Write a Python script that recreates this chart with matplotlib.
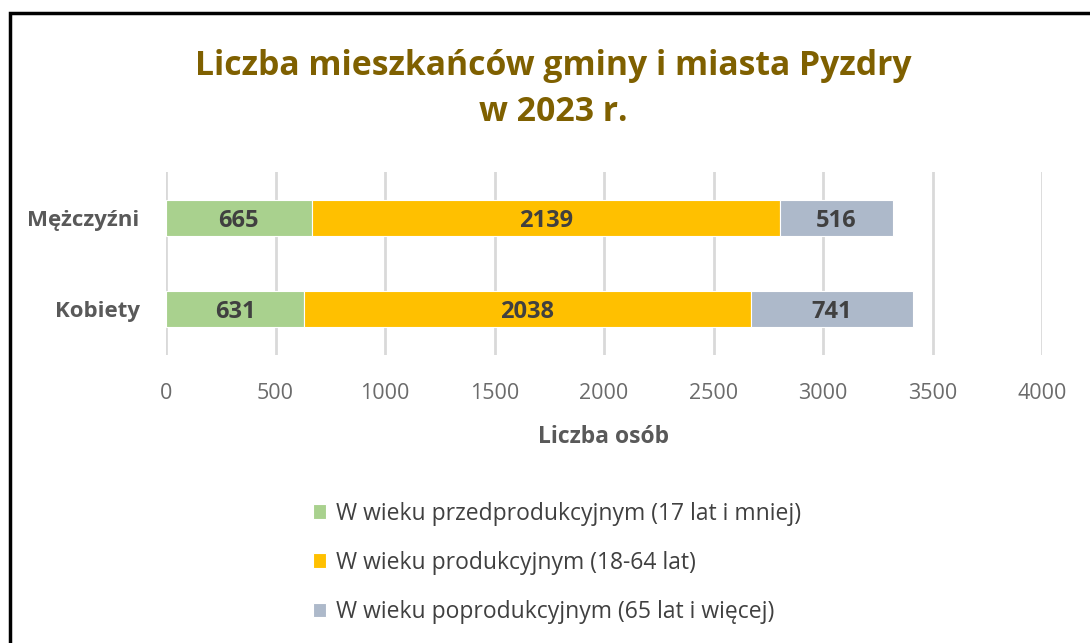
import matplotlib.pyplot as plt
from matplotlib.patches import Rectangle

plt.rcParams['font.family'] = ['Open Sans', 'DejaVu Sans']

# data
categories = ['Kobiety', 'Mężczyźni']
przed = [631, 665]
prod = [2038, 2139]
popr = [741, 516]
series_names = ['W wieku przedprodukcyjnym (17 lat i mniej)',
                'W wieku produkcyjnym (18-64 lat)',
                'W wieku poprodukcyjnym (65 lat i więcej)']
colors = ['#A9D18E', '#FFC000', '#ADB9CA']

fig = plt.figure(figsize=(10.9, 6.43), dpi=100)
ax = fig.add_axes([166 / 1090, 1 - 355 / 643, 876 / 1090, 183 / 643])

grey = '#595959'
y = list(range(len(categories)))
left = [0] * len(categories)
handles = []
for vals, col, name in zip([przed, prod, popr], colors, series_names):
    bars = ax.barh(y, vals, left=left, height=0.39, color=col,
                   edgecolor='white', linewidth=0.8, label=name, zorder=3)
    handles.append(bars)
    for yi, v, l in zip(y, vals, left):
        ax.text(l + v / 2, yi, str(v), ha='center', va='center_baseline',
                fontsize=17, fontweight='bold', color='#404040', zorder=4)
    left = [a + b for a, b in zip(left, vals)]

ax.set_xlim(0, 4000)
ax.set_ylim(-0.5, 1.5)
ax.set_xticks(range(0, 4001, 500))
ax.set_yticks(y)
ax.set_yticklabels(categories, fontsize=16, fontweight='bold', color=grey)
ax.tick_params(axis='x', labelsize=15.5, labelcolor='#6b6b6b', length=0, pad=20)
ax.tick_params(axis='y', length=0, pad=19)
ax.grid(axis='x', color='#D9D9D9', linewidth=2, zorder=0)
for s in ax.spines.values():
    s.set_visible(False)
ax.set_xlabel('Liczba osób', fontsize=16.5, fontweight='bold', color=grey, labelpad=15)

fig.text(0.508, 1 - 66 / 643, 'Liczba mieszkańców gminy i miasta Pyzdry',
         ha='center', va='center', fontsize=24.3, fontweight='bold', color='#7F6000')
fig.text(0.508, 1 - 112 / 643, 'w 2023 r.',
         ha='center', va='center', fontsize=24.3, fontweight='bold', color='#7F6000')

fig.legend(handles=handles, loc='upper left', bbox_to_anchor=(292 / 1090, 1 - 481 / 643),
           frameon=False, fontsize=16.5, labelcolor='#404040', handlelength=0.6,
           handleheight=0.6, handletextpad=0.4, labelspacing=1.1)

fig.patches.append(Rectangle((10 / 1090, -0.1), 1.2, 1 - 13 / 643 + 0.1,
                             transform=fig.transFigure, fill=False,
                             edgecolor='black', linewidth=2.5))

fig.savefig('out.png', dpi=100)
